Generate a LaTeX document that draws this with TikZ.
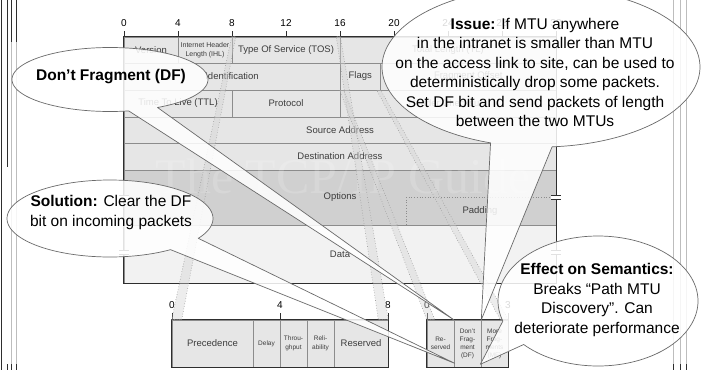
\documentclass[tikz,border=0pt]{standalone}
\usepackage{fontspec}
\setmainfont{Liberation Sans}
\newfontfamily\markfont{Liberation Serif}
\usetikzlibrary{calc}

\definecolor{rowfill}{HTML}{E6E6E6}
\definecolor{optfill}{HTML}{D0D0D0}
\definecolor{datafill}{HTML}{F2F2F2}
\definecolor{labelgray}{HTML}{3C3C3C}
\definecolor{gridgray}{HTML}{8C8C8C}
\definecolor{edgegray}{HTML}{2E2E2E}
\definecolor{bubbleedge}{HTML}{6A6A6A}
\definecolor{framegray}{HTML}{BDBDBD}

\begin{document}
\begin{tikzpicture}[x=1pt,y=-1pt,
  cell/.style={draw=gridgray, line width=0.6pt, fill=rowfill, inner sep=0pt, text=labelgray,
               font=\fontsize{9.5}{11}\selectfont, align=center},
  smallcell/.style={cell, font=\fontsize{7}{8.5}\selectfont},
  bitnum/.style={font=\fontsize{10}{12}\selectfont, text=black, inner sep=0pt},
  boxedge/.style={draw=edgegray, line width=1.3pt},
  band/.style={fill=gray!35, fill opacity=0.4, draw=gray!80, dotted, line width=0.6pt},
  bubble/.style={draw=bubbleedge, line width=0.7pt, fill=white, fill opacity=0.86, line join=round},
  bubbletext/.style={font=\fontsize{15.5}{19.5}\selectfont, align=center, text=black, inner sep=0pt},
  breakmark/.style={draw=edgegray, line width=0.8pt},
  tick/.style={draw=edgegray, line width=0.8pt},
]
\useasboundingbox (0,0) rectangle (703,370);
\fill[white] (0,0) rectangle (703,370);

% slide frame edges
\draw[framegray, line width=0.8pt] (11.7,0) -- (11.7,370) (16.7,0) -- (16.7,370);
\draw[edgegray, line width=0.8pt] (1.7,0) -- (1.7,370) (7.3,0) -- (7.3,167);
\draw[edgegray, line width=0.8pt] (11.7,0) -- (11.7,42) (16.7,0) -- (16.7,42);
\draw[edgegray, line width=0.8pt] (7.3,364) -- (7.3,370) (11.7,364) -- (11.7,370) (16.7,364) -- (16.7,370);
\draw[framegray, line width=0.8pt] (673.3,0) -- (673.3,370) (680,0) -- (680,370) (686.7,0) -- (686.7,370);
\draw[edgegray, line width=0.8pt] (673.3,364) -- (673.3,370) (680,364) -- (680,370) (686.7,364) -- (686.7,370);

% ---------------- IP header ----------------
% row 1
\node[cell, minimum width=54, minimum height=26] (ver) at (151,50) {Version};
\node[smallcell, minimum width=54, minimum height=26] (ihl) at (205,50) {Internet Header\\Length (IHL)};
\node[cell, minimum width=108, minimum height=26] (tos) at (286,50) {Type Of Service (TOS)};
\node[cell, minimum width=216, minimum height=26] (tl) at (448,50) {Total Length (TL)};
% row 2
\node[cell, minimum width=216, minimum height=27] (ident) at (232,76.5) {Identification};
\node[cell, minimum width=40.5, minimum height=27] (flags) at (360.25,76.5) {Flags};
\node[cell, minimum width=175.5, minimum height=27] (fragoff) at (468.25,76.5) {Fragment Offset};
% row 3
\node[cell, minimum width=108, minimum height=27] (ttl) at (178,103.5) {Time To Live (TTL)};
\node[cell, minimum width=108, minimum height=27] (proto) at (286,103.5) {Protocol};
\node[cell, minimum width=216, minimum height=27] (hcs) at (448,103.5) {Header Checksum};
% rows 4..7
\node[cell, minimum width=432, minimum height=26] (src) at (340,130) {Source Address};
\node[cell, minimum width=432, minimum height=27] (dst) at (340,156.5) {Destination Address};
\node[cell, fill=optfill, minimum width=432, minimum height=55] (opts) at (340,197.5) {Options};
\node[cell, fill=datafill, minimum width=432, minimum height=58] (data) at (340,254) {Data};
\draw[gridgray, dotted, line width=0.7pt] (406,197) -- (opts.east |- 0,197) (406,197) -- (406,225);
\node[cell, draw=none, fill=none] (padding) at (480,211) {Padding};

% outline and ruler
\draw[boxedge] (ver.north west) -- (data.south west) -- (data.south east) -- (tl.north east) -- cycle;
\foreach \b in {0,4,...,32}{
  \draw[tick] ({124+13.5*\b},37) -- ({124+13.5*\b},31);
  \node[bitnum] (hb\b) at ({124+13.5*\b},23) {\b};
}
% variable-length break marks
\foreach \yy in {197,252}{
  \fill[white] (551,{\yy-2}) rectangle (561,{\yy+2});
  \draw[breakmark] (551,{\yy-2}) -- (561,{\yy-2}) (551,{\yy+2}) -- (561,{\yy+2});
  \fill[white] (119,{\yy-2}) rectangle (129,{\yy+2});
  \draw[breakmark] (119,{\yy-2}) -- (129,{\yy-2}) (119,{\yy+2}) -- (129,{\yy+2});
}

% watermark
\node[font=\markfont\fontsize{50}{50}\selectfont, text=white, text opacity=0.16, inner sep=0pt] (mark) at (343,176) {The TCP/IP Guide};

% ---------------- TOS breakdown ----------------
\node[cell, minimum width=81, minimum height=47] (prec) at (212.5,343.5) {Precedence};
\node[cell, font=\fontsize{6.5}{9}\selectfont, minimum width=27, minimum height=47] (delay) at (266.5,343.5) {Delay};
\node[cell, font=\fontsize{6.5}{9}\selectfont, minimum width=27, minimum height=47] (thr) at (293.5,343.5) {Throu-\\ghput};
\node[cell, font=\fontsize{6.5}{9}\selectfont, minimum width=27, minimum height=47] (rel) at (320.5,343.5) {Reli-\\ability};
\node[cell, minimum width=54, minimum height=47] (res) at (361,343.5) {Reserved};
\draw[boxedge] (prec.north west) rectangle (res.south east);
\foreach \x/\n in {172/0,280/4,388/8}{
  \draw[tick] (\x,320) -- (\x,313);
  \node[bitnum] (tb\n) at (\x,305) {\n};
}

% ---------------- Flags breakdown ----------------
\node[cell, font=\fontsize{6.5}{8}\selectfont, minimum width=27, minimum height=47] (rsv) at (440.5,343.5) {Re-\\served};
\node[cell, font=\fontsize{6.5}{8}\selectfont, minimum width=27, minimum height=47] (dfbit) at (467.5,343.5) {Don't\\Frag-\\ment\\(DF)};
\node[cell, font=\fontsize{6.5}{8}\selectfont, minimum width=27, minimum height=47] (mf) at (494.5,343.5) {More\\Frag-\\ments\\(MF)};
\draw[boxedge] (rsv.north west) rectangle (mf.south east);
\foreach \x/\n in {427/0,508/3}{
  \draw[tick] (\x,320) -- (\x,313);
  \node[bitnum] (fb\n) at (\x,305) {\n};
}

% projection bands from the header fields to their breakdowns
\draw[band] (tos.north west) -- ($(tos.north west)+(4,0)$) -- ($(prec.north west)+(10,0)$) -- (prec.north west) -- cycle;
\draw[band] (tos.north east) -- ($(tos.north east)+(-4,0)$) -- ($(res.north east)+(-10,0)$) -- (res.north east) -- cycle;
\draw[band] (flags.south west) -- ($(flags.south west)+(4,0)$) -- ($(rsv.north west)+(8,0)$) -- (rsv.north west) -- cycle;
\draw[band] (flags.south east) -- ($(flags.south east)+(-4,0)$) -- ($(mf.north east)+(-8,0)$) -- (mf.north east) -- cycle;

% ---------------- callouts: ellipse outline opened for the pointer ----------------
\coordinate (solpt) at ($(dfbit.south west)+(1,-4)$);
\coordinate (effpt) at ($(dfbit.south east)+(-1,-3)$);

\draw[bubble] plot[domain=79:421, samples=120] ({110+98*cos(\x)},{79.5+32*sin(\x)}) -- (dfbit.north west) -- cycle;
\node[bubbletext] (dftext) at (111,77) {\textbf{Don't Fragment (DF)}};

\draw[bubble] plot[domain=54:391, samples=120] ({110+103*cos(\x)},{218.5+38.5*sin(\x)}) -- (solpt) -- cycle;
\node[bubbletext] (soltext) at (111,212.5) {\textbf{Solution:} Clear the DF\\bit on incoming packets};

\draw[bubble] plot[domain=108.5:446, samples=160] ({541+159*cos(\x)},{67+80*sin(\x)}) -- (dfbit.north east) -- cycle;
\node[bubbletext] (issuetext) at (535,72.5) {\textbf{Issue:} If MTU anywhere\\in the intranet is smaller than MTU\\on the access link to site, can be used to\\deterministically drop some packets.\\Set DF bit and send packets of length\\between the two MTUs};

\draw[bubble] plot[domain=162:498, samples=140] ({598+100*cos(\x)},{301+65*sin(\x)}) -- (effpt) -- cycle;
\node[bubbletext] (efftext) at (597,300) {\textbf{Effect on Semantics:}\\Breaks “Path MTU\\Discovery”. Can\\deteriorate performance};

\end{tikzpicture}
\end{document}
